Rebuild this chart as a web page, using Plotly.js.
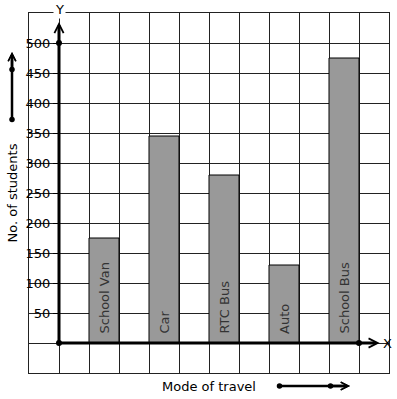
<!DOCTYPE html>
<html>
<head>
<meta charset="utf-8">
<script src="https://cdn.plot.ly/plotly-3.0.1.min.js"></script>
<style>html,body{margin:0;padding:0;background:#fff;}#chart{width:397px;height:399px;}</style>
</head>
<body>
<div id="chart"></div>
<script>
// Data
const modes = ["School Van", "Car", "RTC Bus", "Auto", "School Bus"];
const modePositions = [1.5, 3.5, 5.5, 7.5, 9.5];
const students = [175, 345, 280, 130, 475];
const yTickVals = [50, 100, 150, 200, 250, 300, 350, 400, 450, 500];
const yTickText = ["50", "100", "150", "200", "250", "300", "350", "400", "450", "500"];

// Decorative dots on the axes
const dotX = [0, 0, 10];
const dotY = [0, 500, 0];

const font = "DejaVu Sans, sans-serif";
const gridCol = "#222";

const traces = [
  {
    type: "bar",
    x: modePositions,
    y: students,
    width: 1,
    marker: {color: "#999999", line: {color: "#000", width: 1}},
    hoverinfo: "skip"
  },
  {
    type: "scatter",
    mode: "markers",
    x: dotX,
    y: dotY,
    marker: {color: "#000", size: 6},
    cliponaxis: false,
    hoverinfo: "skip"
  },
  {type: "scatter", x: [0], y: [0], yaxis: "y2", mode: "none", hoverinfo: "skip"}
];

const arrowStyle = {text: "", showarrow: true, arrowhead: 5, arrowsize: 0.6, arrowwidth: 3, arrowcolor: "#000",
  axref: "x", ayref: "y", xref: "x", yref: "y", standoff: 0, startstandoff: 0};

// direction arrows outside the plot (paper coords + pixel tail offsets)
const dirArrow = (x, y, ax, ay) => ({text: "", showarrow: true, arrowhead: 5, arrowsize: 0.6, arrowwidth: 2.5,
  arrowcolor: "#000", arrowside: "end+start", startarrowhead: 6, startarrowsize: 0.55,
  xref: "paper", yref: "paper", x: x, y: y, ax: ax, ay: ay, standoff: 0, startstandoff: 0});

const barLabels = modes.map((m, i) => ({
  text: m, x: modePositions[i], y: 0, xref: "x", yref: "y",
  xanchor: "center", yanchor: "bottom", textangle: -90, yshift: 7,
  showarrow: false, font: {family: font, size: 13, color: "#333"}
}));

const layout = {
  width: 397, height: 399,
  margin: {l: 29, r: 8, t: 13, b: 26},
  paper_bgcolor: "#fff", plot_bgcolor: "#fff",
  showlegend: false,
  bargap: 0,
  xaxis: {
    range: [-1, 11], tick0: 0, dtick: 1,
    showgrid: true, gridcolor: gridCol, gridwidth: 1,
    zeroline: false, showticklabels: false, ticks: "",
    showline: true, mirror: true, linecolor: gridCol, linewidth: 1,
    title: {text: "Mode of travel", font: {family: font, size: 13, color: "#000"}, standoff: 8},
    fixedrange: true
  },
  yaxis: {
    range: [-50, 550],
    anchor: "free", position: 1/12, side: "left",
    tickmode: "array", tickvals: yTickVals, ticktext: yTickText,
    ticks: "outside", ticklen: 6, tickwidth: 1, tickcolor: "#000",
    tickfont: {family: font, size: 13, color: "#000"},
    showgrid: true, gridcolor: gridCol, gridwidth: 1,
    minor: {tick0: 0, dtick: 50, showgrid: true, gridcolor: gridCol, gridwidth: 1, ticks: ""},
    zeroline: false, showline: false,
    title: {text: "No. of students", font: {family: font, size: 13, color: "#000"}, standoff: 4},
    automargin: false,
    fixedrange: true
  },
  yaxis2: {
    range: [-50, 550], overlaying: "y", anchor: "x",
    showline: true, mirror: true, linecolor: gridCol, linewidth: 1,
    showgrid: false, zeroline: false, showticklabels: false, ticks: "", fixedrange: true
  },
  annotations: barLabels.concat([
    Object.assign({}, arrowStyle, {x: 0, y: 535, ax: 0, ay: 0}),
    Object.assign({}, arrowStyle, {x: 10.69, y: 0, ax: 0, ay: 0}),
    dirArrow(-0.0472, 0.8917, 0, 69),
    dirArrow(-0.0472, 0.8917, 0, 19),
    dirArrow(0.8917, -0.0361, -72, 0),
    dirArrow(0.8917, -0.0361, -21, 0),
    {text: "Y", x: 0, y: 1, xref: "x", yref: "paper", yanchor: "middle", xanchor: "center", yshift: 4,
     showarrow: false, bgcolor: "#fff", font: {family: font, size: 13, color: "#000"}},
    {text: "X", x: 10.95, y: 0, xref: "x", yref: "y", xanchor: "center", yanchor: "middle",
     showarrow: false, font: {family: font, size: 13, color: "#000"}}
  ])
};

Plotly.newPlot("chart", traces, layout, {staticPlot: true});
</script>
</body>
</html>
